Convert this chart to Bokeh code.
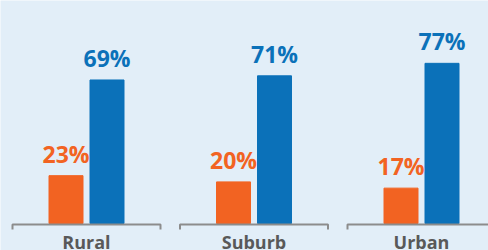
from bokeh.plotting import figure
from bokeh.models import ColumnDataSource, LabelSet, Range1d
from bokeh.core.properties import value
from bokeh.embed import file_html
from bokeh.resources import INLINE

# ---- data ----
categories = ["Rural", "Suburb", "Urban"]
series_a = [23, 20, 17]   # orange
series_b = [69, 71, 77]   # blue
labels_a = ["23%", "20%", "17%"]
labels_b = ["69%", "71%", "77%"]

BG = "#E2EEF8"
ORANGE = "#F26322"
BLUE = "#0B71B9"
GRAY_LINE = "#8C8C8C"
GRAY_TEXT = "#595959"
FONT = value("Open Sans")

PX_X = 167.5   # pixels per group
PX_Y = 2.08    # pixels per percent
W, H = 488, 250

x0 = -86 / PX_X
y0 = -27 / PX_Y

p = figure(width=W, height=H, output_backend="svg", toolbar_location=None,
           x_axis_type=None, y_axis_type=None,
           x_range=Range1d(x0, x0 + W / PX_X), y_range=Range1d(y0, y0 + H / PX_Y),
           min_border=0, outline_line_color=None,
           background_fill_color=BG, border_fill_color=BG)
p.grid.visible = False

idx = list(range(len(categories)))
off = 20.5 / PX_X
bw = 34 / PX_X

src = ColumnDataSource(dict(
    xa=[i - off for i in idx], xb=[i + off for i in idx],
    a=series_a, b=series_b, la=labels_a, lb=labels_b,
    xc=idx, cat=categories, zero=[0] * len(idx)))

p.vbar(x="xa", top="a", bottom=0, width=bw, color=ORANGE, source=src)
p.vbar(x="xb", top="b", bottom=0, width=bw, color=BLUE, source=src)

# group brackets
half = 74 / PX_X
ly = -1.0 / PX_Y
ty = -6.0 / PX_Y
xs = [[i - half, i - half, i + half, i + half] for i in idx]
ys = [[ty, ly, ly, ty] for _ in idx]
p.multi_line(xs, ys, line_color=GRAY_LINE, line_width=2)

p.add_layout(LabelSet(x="xa", y="a", text="la", source=src, y_offset=13,
                      text_align="center", text_baseline="alphabetic",
                      text_font=FONT, text_font_style="bold", text_font_size="23px",
                      text_color=ORANGE))
p.add_layout(LabelSet(x="xb", y="b", text="lb", source=src, y_offset=13,
                      text_align="center", text_baseline="alphabetic",
                      text_font=FONT, text_font_style="bold", text_font_size="23px",
                      text_color=BLUE))
p.add_layout(LabelSet(x="xc", y="zero", text="cat", source=src, y_offset=-25,
                      text_align="center", text_baseline="alphabetic",
                      text_font=FONT, text_font_style="bold", text_font_size="18px",
                      text_color=GRAY_TEXT))

html = file_html(p, INLINE)
html = html.replace("<body>", '<body style="margin:0;overflow:hidden;background:%s;">' % BG, 1)
open("out.html", "w").write(html)
